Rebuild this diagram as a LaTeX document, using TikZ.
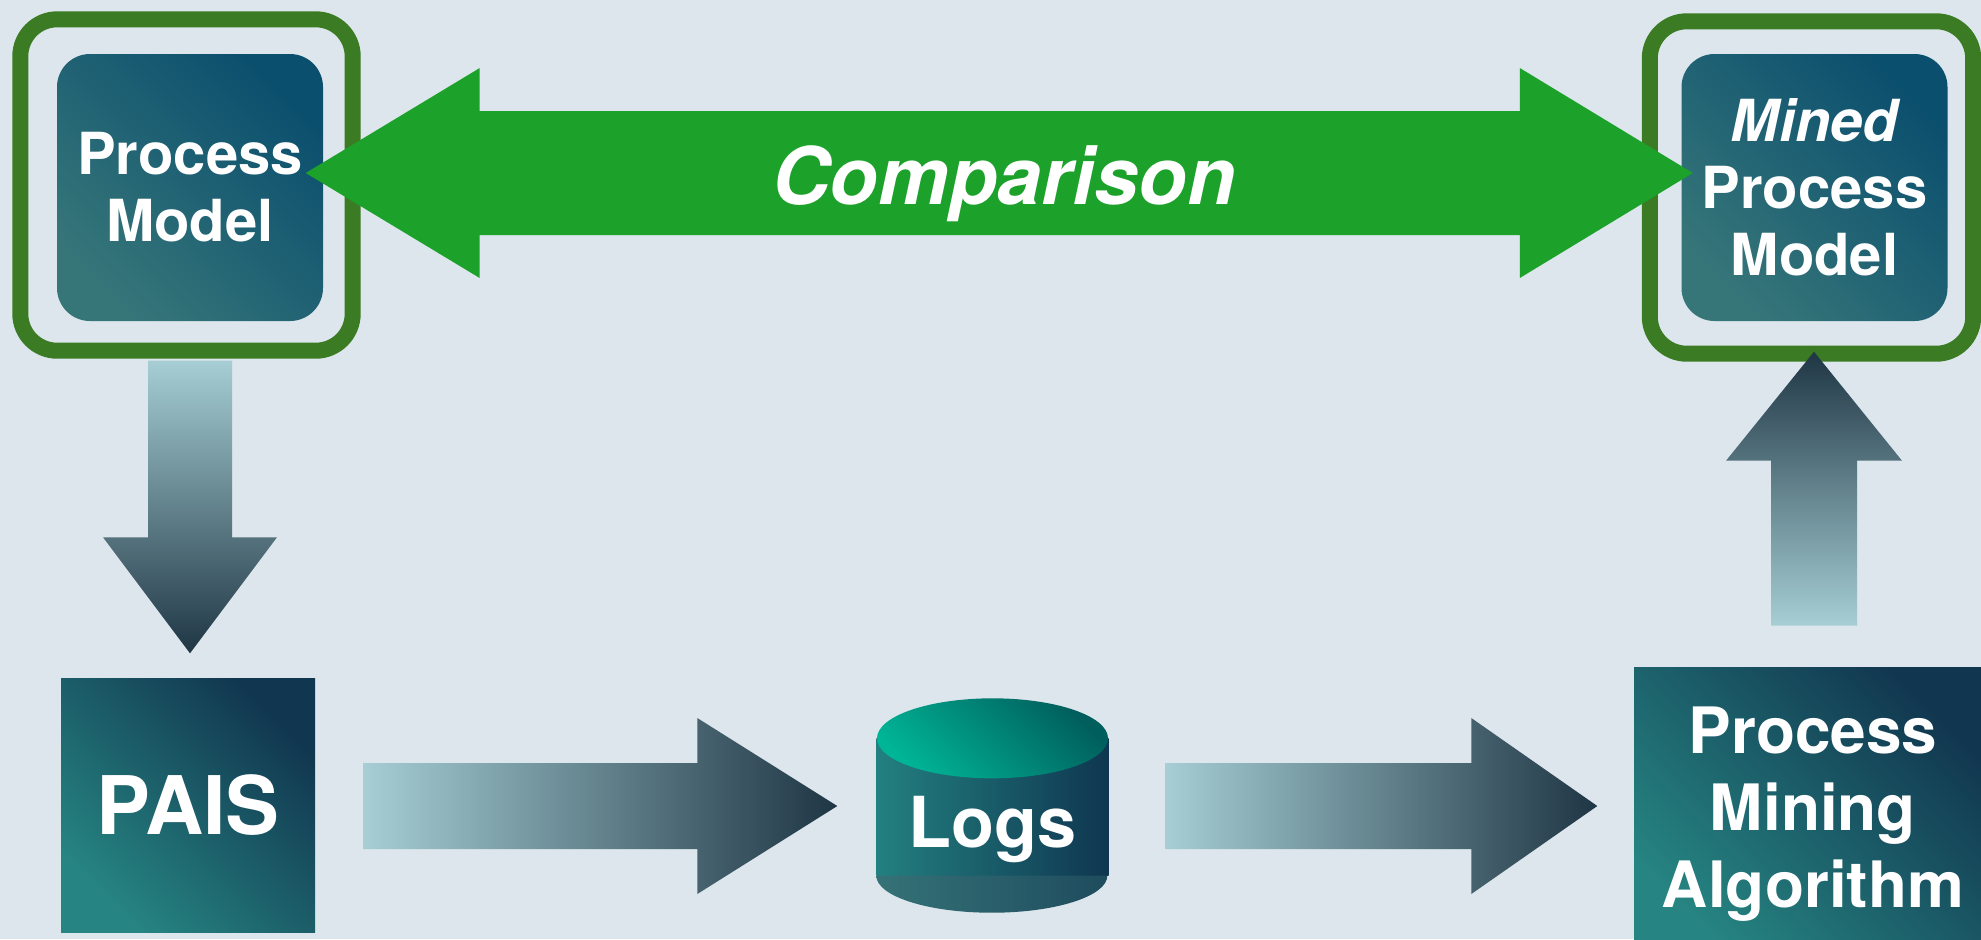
\documentclass[tikz,border=0pt]{standalone}
\usepackage{fontspec}
\setmainfont{TeX Gyre Heros}
\usepackage{tikz}
\usetikzlibrary{calc}

\definecolor{bgc}{HTML}{DDE6EC}
\definecolor{framegreen}{HTML}{3A7B23}
\definecolor{arrowgreen}{HTML}{1CA22B}
\definecolor{boxdark}{HTML}{0B4F6E}
\definecolor{boxlight}{HTML}{367679}
\definecolor{sqdark}{HTML}{11364F}
\definecolor{sqlight}{HTML}{268582}
\definecolor{arrlight}{HTML}{A6CED4}
\definecolor{arrdark}{HTML}{1F3644}
\definecolor{cylleft}{HTML}{238080}
\definecolor{cylright}{HTML}{0F3650}
\definecolor{toplight}{HTML}{00B496}
\definecolor{topdark}{HTML}{005E5C}
\definecolor{botleft}{HTML}{357277}
\definecolor{botright}{HTML}{1E4C5E}

\tikzset{
	modelbox/.style={rectangle,rounded corners=3.3mm,minimum width=26.6mm,minimum height=26.7mm,text=white,align=center,font=\fontsize{16.5}{19.06}\selectfont\bfseries,top color=boxdark,bottom color=boxlight,shading angle=-45},
	squarebox/.style={rectangle,text=white,align=center,top color=sqdark,bottom color=sqlight,shading angle=-45},
	greenframe/.style={draw=framegreen,line width=1.6mm,rounded corners=3.7mm},
	blockarrow/.style={left color=arrlight,right color=arrdark},
	downarrow/.style={top color=arrlight,bottom color=arrdark},
	uparrow/.style={top color=arrdark,bottom color=arrlight},
	cmptext/.style={text=white,inner sep=0,font=\fontsize{22.6}{27}\selectfont\bfseries\itshape},
	logtext/.style={text=white,inner sep=0,font=\fontsize{20}{24}\selectfont\bfseries}
}

\begin{document}
\begin{tikzpicture}[x=0.1mm,y=-0.1mm]
	\fill[bgc] (0,0) rectangle (1981,939);	%background
	\useasboundingbox (0,0) rectangle (1981,939);
	\clip (0,0) rectangle (1981,939);
	
	%TOP
	\node[modelbox] (pm) at (190,187.5) {Process\\Model};
	\node[modelbox] (mpm) at (1814.5,187.5) {{\itshape Mined}\\Process\\Model};
	\draw[greenframe] ($(pm.north west)+(-36,-34)$) rectangle ($(pm.south east)+(29,29)$);
	\draw[greenframe] ($(mpm.north west)+(-31,-32)$) rectangle ($(mpm.south east)+(25,32)$);
	
	%BOTTOM
	\node[squarebox,minimum size=25.4mm,font=\fontsize{23}{27}\selectfont\bfseries] (pais) at (188,805) {PAIS};
	\node[squarebox,minimum width=35.8mm,minimum height=29.3mm,font=\fontsize{18.2}{21.9}\selectfont\bfseries] (alg) at (1813,813.7) {Process\\Mining\\Algorithm};
	%
	%logs cylinder
	\node[minimum width=23.1mm,minimum height=13.6mm,inner sep=0] (logs) at (992.5,807) {};
	\shade[left color=cylleft,right color=cylright] (logs.north west) rectangle (logs.south east);
	\shade[left color=botleft,right color=botright] (logs.south west) arc (180:0:115.5 and 37) -- cycle;
	\shade[top color=topdark,bottom color=toplight,shading angle=-45] (logs.north) ellipse (115.5 and 40);
	\node[logtext,anchor=base] (logslabel) at ($(logs.center)+(0,40)$) {Logs};
	
	%comparison arrow
	\coordinate (g1) at ($(pm.east)+(-18,-14.5)$);
	\coordinate (g2) at ($(g1 -| mpm.west)+(12,0)$);
	\fill[arrowgreen] (g1) -- ++(174,-105) -- ++(0,43) -- ($(g2)+(-173,-62)$) -- ++(0,-43) -- (g2) -- ++(-173,105) -- ++(0,-43) -- ($(g1)+(174,62)$) -- ++(0,43) -- cycle;
	\node[cmptext,anchor=base] (cmp) at ($(g1)!0.5!(g2)+(5,31)$) {Comparison};
	
	%flow arrows
	\coordinate (a1s) at ($(pais.east)+(48,1)$);
	\coordinate (a1e) at ($(a1s -| logs.west)+(-39,0)$);
	\shade[blockarrow] ($(a1s)+(0,-43)$) -- ($(a1e)+(-140,-43)$) -- ++(0,-45) -- (a1e) -- ++(-140,88) -- ++(0,-45) -- ($(a1s)+(0,43)$) -- cycle;
	%
	\coordinate (a2s) at ($(logs.east)+(57,-1)$);
	\coordinate (a2e) at ($(a2s -| alg.west)+(-36,0)$);
	\shade[blockarrow] ($(a2s)+(0,-43)$) -- ($(a2e)+(-126,-43)$) -- ++(0,-45) -- (a2e) -- ++(-126,88) -- ++(0,-45) -- ($(a2s)+(0,43)$) -- cycle;
	%
	\coordinate (a3s) at ($(pm.south)+(0,39)$);
	\coordinate (a3e) at ($(a3s |- pais.north)+(0,-24)$);
	\shade[downarrow] ($(a3s)+(-42,0)$) -- ($(a3e)+(-42,-116)$) -- ++(-45,0) -- (a3e) -- ++(87,-116) -- ++(-45,0) -- ($(a3s)+(42,0)$) -- cycle;
	%
	\coordinate (a4s) at ($(alg.north)+(1,-41)$);
	\coordinate (a4e) at ($(a4s |- mpm.south)+(0,30)$);
	\shade[uparrow] ($(a4s)+(-43,0)$) -- ($(a4e)+(-43,109)$) -- ++(-45,0) -- (a4e) -- ++(88,109) -- ++(-45,0) -- ($(a4s)+(43,0)$) -- cycle;
\end{tikzpicture}
\end{document}
